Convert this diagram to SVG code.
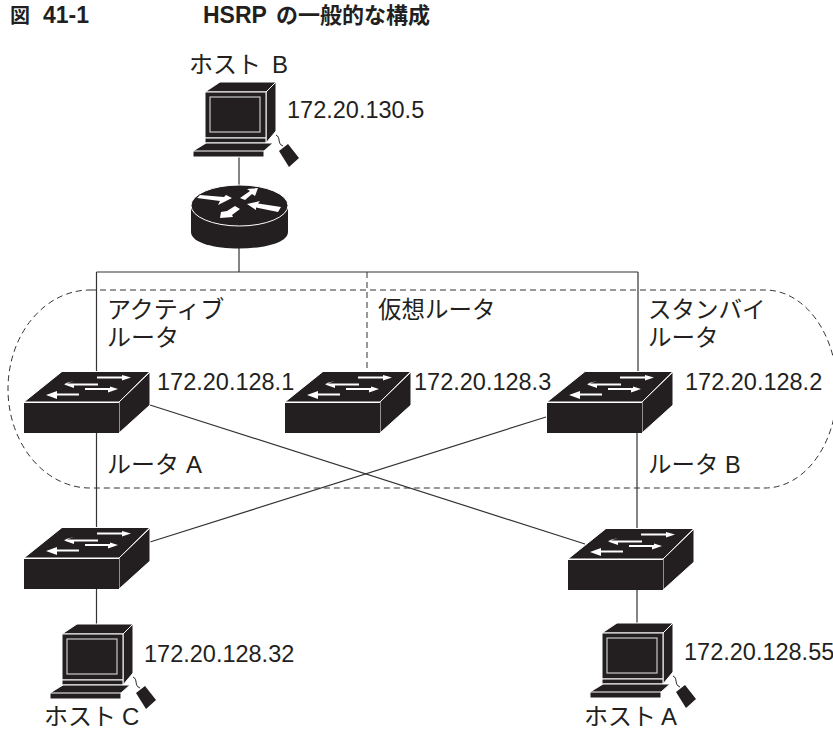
<svg xmlns="http://www.w3.org/2000/svg" width="833" height="731" viewBox="0 0 833 731">
<style>
text{font-family:"Liberation Sans","Noto Sans CJK JP",sans-serif;font-size:23.500px;fill:#231f20}
.t{font-size:23px;font-weight:bold}
.c{font-size:22px}
.j{font-size:24px}
.w{fill:none;stroke:#333;stroke-width:1.200}
.d{fill:none;stroke:#333;stroke-width:1;stroke-dasharray:6 4}
.b{fill:#231f20;stroke:#fff;stroke-width:1;stroke-linejoin:round}
.a{fill:#fff;stroke:none}
</style>
<defs>
<g id="sw">
<path class="b" d="M24 402L62 371.500H150L119 402Z"/>
<path class="b" d="M119 402L150 372V405L119 433Z"/>
<path d="M24 402H119V433H24Z" fill="#231f20"/>
<path d="M24 402.500H119" stroke="#fff" fill="none"/>
<path class="a" d="M97 376.500H122V375L131 377.500 122 380.500V378.500H97ZM64 383.500H98V385.500H74V388L64 384.500 74 381ZM85 388H110V386.500L118 389 108 392.500V390H85ZM46 395L57 391V393.500H79V395.500H57V399Z"/>
</g>
<g id="host">
<path class="b" d="M205 92L220 82H276L266 92Z"/>
<path class="b" d="M266 92L276 82V131L266 143Z"/>
<path class="b" d="M205 92H266V138H205Z"/>
<rect x="210" y="97" width="50" height="35" fill="#231f20" stroke="#c8c8c8" stroke-width="1.200"/>
<path class="b" d="M205 138H266V143H205Z"/>
<path class="b" d="M193 151L206 143H273L264 151V157H193Z"/>
<path d="M193 151H264" stroke="#fff" fill="none"/>
<path d="M276 135C281 137 277 144 283 146" fill="none" stroke="#231f20"/>
<path d="M279 151L288 144 299 158 289 167Z" fill="#231f20"/>
</g>
</defs>
<text class="t" x="10" y="23"><tspan style="font-size:20px">図</tspan></text>
<text class="t" x="43" y="23">41-1</text>
<text class="t" x="203" y="23">HSRP <tspan class="c" x="276">の一般的な構成</tspan></text>
<g id="connectors">
<path class="w" d="M239 157V186M239 246V272M96.500 272H638M96.500 272V372M96.500 433V528M638 272V372M637 433V530M637 590V623M96.500 588V624M150 405L585 544M150 542L546 417"/>
<path class="d" d="M367 272V372"/>
<path class="d" d="M90 290H765A72 99 0 0 1 765 488H90A82 99 0 0 1 90 290Z"/>
</g>
<g id="host-b"><use href="#host"/><text class="j" x="189" y="73">ホスト<tspan x="272">B</tspan></text><text x="287" y="118">172.20.130.5</text></g>
<g id="router">
<path d="M191 206V232C191 243 215 248.500 239 248.500S288 243 288 232V206Z" fill="#231f20"/>
<ellipse cx="239.500" cy="205.500" rx="48.500" ry="20.500" fill="#231f20" stroke="#fff"/>
<path class="a" d="M197 198L200 195 224 197 226 195 232 198 218 205 220 201ZM258 188L247 189 250 191 240 198 245 200 252 194 255 196ZM247 204L260 201 258 203.500 281 207 278 212 256 207.500 256 210ZM220 218L221 212 227 211 235 206 240 209 232 215 233 217Z"/>
</g>
<g id="router-a"><use href="#sw"/><text x="157" y="390">172.20.128.1</text><text class="j" x="107" y="318">アクティブ</text><text class="j" x="107" y="346">ルータ</text><text class="j" x="107" y="473">ルータ<tspan x="186">A</tspan></text></g>
<g id="router-v"><use href="#sw" x="261"/><text x="414" y="390">172.20.128.3</text><text x="378" y="318">仮想ルータ</text></g>
<g id="router-b"><use href="#sw" x="523"/><text x="685" y="390">172.20.128.2</text><text x="648" y="318">スタンバイ</text><text x="648" y="346">ルータ</text><text x="648" y="473">ルータ<tspan x="725">B</tspan></text></g>
<g id="switch-c"><use href="#sw" y="156"/></g>
<g id="switch-a"><use href="#sw" x="544" y="157"/></g>
<g id="host-c"><use href="#host" x="-143" y="542"/><text x="144" y="662">172.20.128.32</text><text class="j" x="44" y="725">ホスト<tspan x="122">C</tspan></text></g>
<g id="host-a"><use href="#host" x="397" y="541"/><text x="684" y="660">172.20.128.55</text><text class="j" x="584" y="725">ホスト<tspan x="661">A</tspan></text></g>
</svg>
